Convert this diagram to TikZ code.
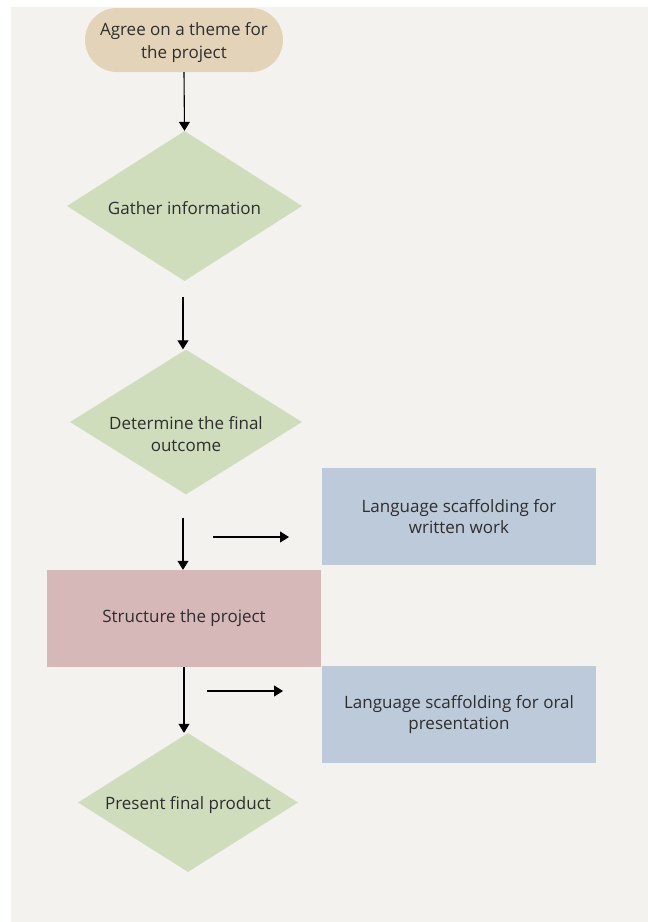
\documentclass[tikz,border=0pt]{standalone}
\usepackage{fontspec}
\setmainfont{Open Sans}
\usetikzlibrary{shapes.geometric,arrows.meta}
\definecolor{panel}{HTML}{F3F2EE}
\definecolor{tan}{HTML}{E3D4B9}
\definecolor{sage}{HTML}{CFDDBD}
\definecolor{bluegray}{HTML}{BDCAD9}
\definecolor{rose}{HTML}{D6B8B9}
\definecolor{ink}{HTML}{2E2E2E}
\begin{document}
\begin{tikzpicture}[x=1pt,y=-1pt,
  txt/.style={text=ink,font=\fontsize{17}{21.5}\selectfont,align=center},
  pill/.style={txt,fill=tan,rounded corners=32pt,minimum width=198pt,minimum height=64pt,inner sep=0pt},
  dia/.style={fill=sage,diamond,inner sep=0pt},
  rbox/.style={txt,fill=rose,minimum width=274pt,minimum height=97pt,inner sep=0pt},
  bbox/.style={txt,fill=bluegray,minimum width=274pt,minimum height=97pt,inner sep=0pt},
  arr/.style={draw=black,line width=1.1pt,-{Triangle[length=9pt,width=11pt]}}]
\useasboundingbox (0,0) rectangle (648,922);
\fill[white] (0,0) rectangle (648,922);
\fill[panel] (11,7) rectangle (648,922);
\node[pill,font=\fontsize{17}{23}\selectfont,text depth=0pt] (agree) at (184,40) {Agree on a theme for\\the project};
\node[dia,minimum width=235pt,minimum height=150pt,label={[txt,yshift=-2pt]center:Gather information}] (gather) at (184.5,206) {};
\node[dia,minimum width=232pt,minimum height=145pt,label={[txt,yshift=-12pt]center:Determine the final\\outcome}] (determine) at (186,422) {};
\node[rbox] (structure) at (184,618.5) {Structure the project};
\node[bbox] (written) at (459,516.5) {Language scaffolding for\\written work};
\node[bbox] (oral) at (459,714.5) {Language scaffolding for oral\\presentation};
\node[dia,minimum width=220pt,minimum height=139pt,label={[txt,yshift=-3pt]center:Present final product}] (present) at (188,802.5) {};
\coordinate (a2s) at (183,297);
\coordinate (a3s) at (183,518);
\coordinate (h1s) at (213,537);
\coordinate (h1e) at (289,537);
\coordinate (h2s) at (207,691);
\coordinate (h2e) at (283,691);
\draw[arr] (agree.south) -- (gather.north);
\draw[arr] (a2s) -- (determine.north -| a2s);
\draw[arr] (a3s) -- (structure.north -| a3s);
\draw[arr] (h1s) -- (h1e);
\draw[arr] (structure.south) -- (structure.south |- present.north);
\draw[arr] (h2s) -- (h2e);
\end{tikzpicture}
\end{document}
